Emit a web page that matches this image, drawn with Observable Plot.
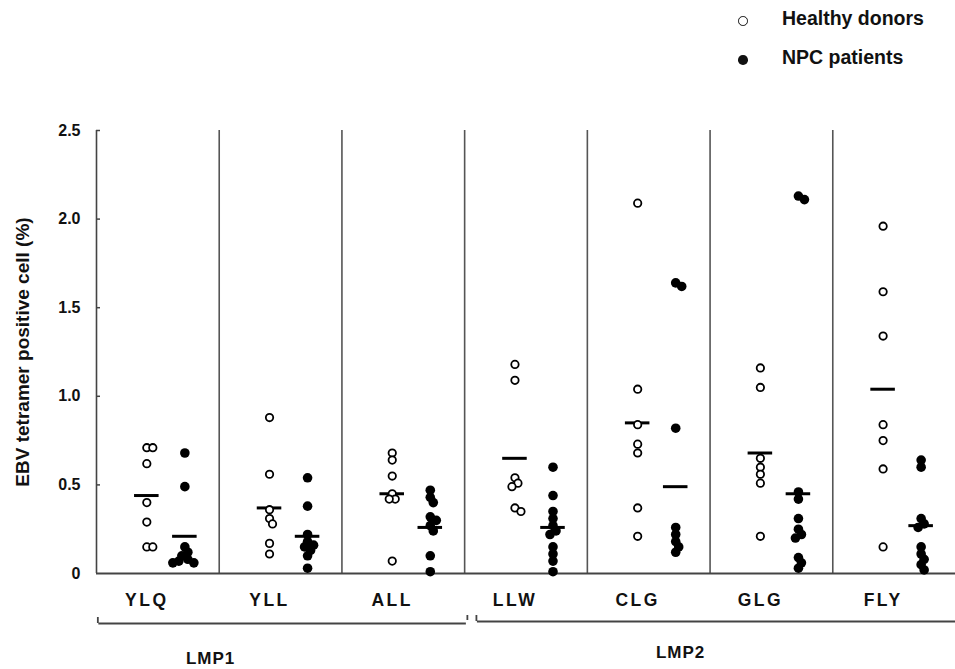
<!DOCTYPE html>
<html><head><meta charset="utf-8">
<script src="https://cdn.jsdelivr.net/npm/d3@7"></script>
<script src="https://cdn.jsdelivr.net/npm/@observablehq/plot@0.6"></script>
<style>
body{margin:0;background:#fff;}
#wrap{position:relative;width:955px;height:669px;font-family:"Liberation Sans",Arial,sans-serif;}
.leg{position:absolute;font-weight:bold;font-size:19.5px;color:#111;line-height:1;}
.sym{position:absolute;border-radius:50%;box-sizing:border-box;}
</style></head><body><div id="wrap"></div>
<script>
// ---- data ----
const lmp1Epitopes = ["YLQ","YLL","ALL"];
const lmp2Epitopes = ["LLW","CLG","GLG","FLY"];
const categories = [...lmp1Epitopes, ...lmp2Epitopes];
const proteins = ["LMP1","LMP2"];
const seriesNames = ["Healthy donors","NPC patients"];
const yTicks = [0, 0.5, 1.0, 1.5, 2.0, 2.5];
const yTitle = "EBV tetramer positive cell (%)";

const healthyYLQ = [0.71,0.71,0.62,0.40,0.29,0.15,0.15];
const healthyYLL = [0.88,0.56,0.36,0.31,0.28,0.17,0.11];
const healthyALL = [0.68,0.64,0.55,0.45,0.42,0.42,0.07];
const healthyLLW = [1.18,1.09,0.54,0.51,0.49,0.37,0.35];
const healthyCLG = [2.09,1.04,0.84,0.73,0.68,0.37,0.21];
const healthyGLG = [1.16,1.05,0.65,0.60,0.56,0.51,0.21];
const healthyFLY = [1.96,1.59,1.34,0.84,0.75,0.59,0.15];

const npcYLQ = [0.68,0.49,0.15,0.12,0.10,0.08,0.07,0.06,0.06];
const npcYLL = [0.54,0.38,0.22,0.18,0.16,0.15,0.13,0.10,0.03];
const npcALL = [0.47,0.43,0.40,0.32,0.30,0.27,0.24,0.10,0.01];
const npcLLW = [0.60,0.44,0.35,0.31,0.27,0.24,0.22,0.15,0.11,0.07,0.01];
const npcCLG = [1.64,1.62,0.82,0.26,0.22,0.18,0.15,0.12];
const npcGLG = [2.13,2.11,0.46,0.42,0.31,0.25,0.22,0.20,0.09,0.06,0.03];
const npcFLY = [0.64,0.60,0.31,0.28,0.26,0.15,0.11,0.08,0.05,0.02];

const meanHealthy = [0.44,0.37,0.45,0.65,0.85,0.68,1.04];
const meanNPC     = [0.21,0.21,0.26,0.26,0.49,0.45,0.27];

// ---- layout ----
const W = 955, H = 669, mL = 96, mR = 0, mT = 130, mB = 96;
const kx = (W - mL - mR) / categories.length;
const ky = (H - mT - mB) / 2.5;
const offHealthy = 0.41, offNPC = 0.72;
const proteinLabelX = [0.93, 4.76];
const proteinLabelDy = [85, 79];

const healthyLists = [healthyYLQ,healthyYLL,healthyALL,healthyLLW,healthyCLG,healthyGLG,healthyFLY];
const npcLists = [npcYLQ,npcYLL,npcALL,npcLLW,npcCLG,npcGLG,npcFLY];

function swarm(values, center) {
  const placed = [];
  const order = values.map((v, i) => ({v, i})).sort((a, b) => b.v - a.v);
  const out = new Array(values.length);
  for (const p of order) {
    const py = p.v * ky;
    let off = 0;
    for (const c of [0, 3, -3, 6, -6, 9, -9, 12, -12]) {
      if (placed.every(q => Math.hypot(q.x - c, q.y - py) >= 6)) { off = c; break; }
    }
    placed.push({x: off, y: py});
    out[p.i] = center + off / kx;
  }
  return out;
}

const healthyRows = [], npcRows = [];
categories.forEach((c, i) => {
  const hx = swarm(healthyLists[i], i + offHealthy);
  healthyLists[i].forEach((v, j) => healthyRows.push({category: c, value: v, x: hx[j]}));
  const nx = swarm(npcLists[i], i + offNPC);
  npcLists[i].forEach((v, j) => npcRows.push({category: c, value: v, x: nx[j]}));
});
const meanRows = categories.flatMap((c, i) => [
  {category: c, value: meanHealthy[i], x: i + offHealthy},
  {category: c, value: meanNPC[i], x: i + offNPC}
]);
const spans = [
  {name: proteins[0], x1: categories.indexOf(lmp1Epitopes[0]) + 0.015, x2: categories.indexOf(lmp1Epitopes.at(-1)) + 1.01, dy: 50},
  {name: proteins[1], x1: categories.indexOf(lmp2Epitopes[0]) + 0.1, x2: categories.length, dy: 48}
];

const plot = Plot.plot({
  width: W, height: H,
  marginLeft: mL, marginRight: mR, marginTop: mT, marginBottom: mB,
  style: {fontFamily: "Liberation Sans, Arial, sans-serif", background: "white", color: "#111"},
  x: {domain: [0, categories.length], axis: null},
  y: {domain: [0, 2.5]},
  marks: [
    Plot.axisY({ticks: yTicks, tickSize: 0, tickPadding: 16, label: null,
      tickFormat: d => d === 0 ? "0" : d.toFixed(1), fontSize: 16, fontWeight: "bold"}),
    Plot.ruleY(yTicks.filter(v => v > 0), {x1: 0, x2: 4 / kx, stroke: "#444", strokeWidth: 1.5}),
    Plot.ruleX(categories.slice(1).map((c, i) => i + 1), {y1: 0, y2: 2.5, stroke: "#555", strokeWidth: 1.6}),
    Plot.ruleX([0], {y1: 0, y2: 2.5, stroke: "#444", strokeWidth: 1.6}),
    Plot.ruleY([0], {stroke: "#444", strokeWidth: 1.8}),
    Plot.ruleY(meanRows, {y: "value", x1: d => d.x - 0.1, x2: d => d.x + 0.1, stroke: "#000", strokeWidth: 3}),
    Plot.dot(healthyRows, {x: "x", y: "value", r: 3.7, stroke: "#000", strokeWidth: 1.8, fill: "white"}),
    Plot.dot(npcRows, {x: "x", y: "value", r: 4.8, fill: "#000", stroke: "none"}),
    Plot.text(categories, {x: (d, i) => i + offHealthy, y: () => 0, text: d => d, dy: 27, fontSize: 17.5, fontWeight: "bold"}),
    Plot.text(proteins, {x: (d, i) => proteinLabelX[i], y: () => 0, text: d => d, fontSize: 17, fontWeight: "bold"}),
    Plot.text([yTitle], {frameAnchor: "left", textAnchor: "middle", rotate: -90, dx: -74, fontSize: 19, fontWeight: "bold"}),
    Plot.link(spans, {x1: "x1", x2: "x2", y1: () => 0, y2: () => 0, stroke: "#444", strokeWidth: 1.8})
  ]
});

// post-adjustments: vertical offsets of annotations below the axis, letter spacing, bracket ends
const svg = d3.select(plot);
const xs = plot.scale("x"), ys = plot.scale("y");
const y0 = ys.apply(0);
svg.selectAll("g[aria-label='text']").each(function() {
  const g = d3.select(this);
  const texts = g.selectAll("text");
  const first = texts.text();
  if (categories.includes(first)) texts.style("letter-spacing", "2.5px");
  if (proteins.includes(first)) {
    texts.each(function(d, i) {
      d3.select(this)
        .attr("transform", `translate(${xs.apply(proteinLabelX[i])},${y0 + proteinLabelDy[i]})`)
        .style("letter-spacing", "1px");
    });
  }
});
svg.selectAll("g[aria-label='link'] path").each(function(d, i) {
  d3.select(this).attr("transform", `translate(0,${spans[i].dy})`);
});
const g = svg.append("g").attr("stroke", "#444").attr("stroke-width", 1.8);
spans.forEach(s => {
  const yy = y0 + s.dy;
  g.append("line").attr("x1", xs.apply(s.x1)).attr("x2", xs.apply(s.x1)).attr("y1", yy).attr("y2", yy - 6);
  if (s.x2 < categories.length) {
    g.append("line").attr("x1", xs.apply(s.x2) + 2).attr("x2", xs.apply(s.x2) + 2).attr("y1", yy - 3).attr("y2", yy - 8);
  }
});

const wrap = document.getElementById("wrap");
wrap.appendChild(plot);
plot.style.position = "absolute"; plot.style.left = "0"; plot.style.top = "0";

// legend
const legend = [
  {name: seriesNames[0], cx: 743, cy: 21, open: true},
  {name: seriesNames[1], cx: 743, cy: 60, open: false}
];
legend.forEach(l => {
  const s = document.createElement("div");
  s.className = "sym";
  const r = 4.8;
  s.style.left = (l.cx - r) + "px"; s.style.top = (l.cy - r) + "px";
  s.style.width = (2 * r) + "px"; s.style.height = (2 * r) + "px";
  s.style.border = l.open ? "1.8px solid #111" : "none";
  s.style.background = l.open ? "#fff" : "#111";
  wrap.appendChild(s);
  const t = document.createElement("div");
  t.className = "leg";
  t.textContent = l.name;
  t.style.left = "782px"; t.style.top = (l.cy - 12) + "px";
  wrap.appendChild(t);
});
</script></body></html>
